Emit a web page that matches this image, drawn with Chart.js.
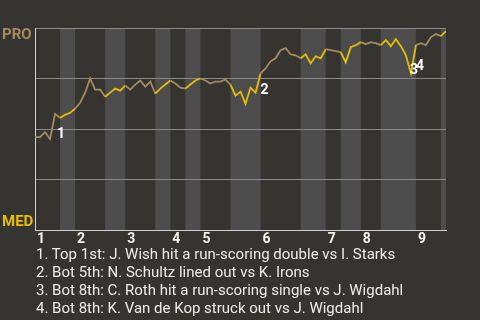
<!DOCTYPE html>
<html>
<head>
<meta charset="utf-8">
<script src="https://cdn.jsdelivr.net/npm/chart.js@4"></script>
<style>
  html, body { margin: 0; padding: 0; background: #363430; }
  #wrap { position: relative; width: 480px; height: 320px; background: #363430; }
  #notes { position: absolute; left: 36px; top: 245px; font: 15px Roboto, sans-serif; line-height: 18px; color: #ececec; white-space: nowrap; }
</style>
</head>
<body>
<div id="wrap">
  <canvas id="myChart"></canvas>
  <div id="notes"></div>
</div>
<script>
// win probability for PRO, one point per plate appearance (0 = MED wins, 100 = PRO wins)
var winPct = [46, 46, 48.5, 45, 57.5, 55.5, 57, 58, 60, 63, 68, 75, 69.5, 69.5, 66,
  68, 70, 69, 71.5, 69.5, 72, 74, 71, 73.5, 67.5, 70, 72, 74, 72.5, 70.5, 70,
  72, 74, 75, 74, 72.5, 73.5, 73.5, 74.5, 72, 66.5, 68.5, 62.5, 70.5, 68, 77.5,
  80, 83.5, 85, 89, 90, 87, 86.5, 85, 87, 82.5, 86, 85, 89.5, 89, 88.5, 88,
  83, 90.5, 91.5, 93, 92, 93, 92.5, 91.5, 94, 91, 94.5, 91, 86.5, 77.5, 91.5,
  92.5, 91.5, 95.5, 97, 96, 98.5];

// plate appearance index where each half inning starts (top 1st, bot 1st, top 2nd ...)
var halfStarts = [0, 5, 8, 14, 18, 24, 27, 30, 33, 39, 45, 53, 58, 61, 65, 69, 76, 81];
var lastPA = 82;
var inningLabels = ['1', '2', '3', '4', '5', '6', '7', '8', '9'];

// key plays
var eventIdx = [4, 45, 75, 76];
var eventNames = ['1', '2', '3', '4'];
var eventNotes = [
  '1. Top 1st: J. Wish hit a run-scoring double vs I. Starks',
  '2. Bot 5th: N. Schultz lined out vs K. Irons',
  '3. Bot 8th: C. Roth hit a run-scoring single vs J. Wigdahl',
  '4. Bot 8th: K. Van de Kop struck out vs J. Wigdahl'
];

var teamTop = 'PRO';
var teamBottom = 'MED';
var awayColor = '#a38a60';
var homeColor = '#e4be00';

document.getElementById('notes').innerHTML = eventNotes.map(function (t) { return '<div>' + t + '</div>'; }).join('');

var inningStarts = halfStarts.filter(function (v, i) { return i % 2 === 0; });

function isBottomHalf(pa) {
  var h = 0;
  for (var i = 0; i < halfStarts.length; i++) {
    if (halfStarts[i] <= pa) h = i;
  }
  return h % 2 === 1;
}

var bandPlugin = {
  id: 'bands',
  beforeDraw: function (chart) {
    var c = chart.ctx, a = chart.chartArea, x = chart.scales.x;
    c.save();
    c.fillStyle = '#4d4d4d';
    for (var i = 1; i < halfStarts.length; i += 2) {
      var end = i + 1 < halfStarts.length ? halfStarts[i + 1] : lastPA;
      var x0 = x.getPixelForValue(halfStarts[i]);
      var x1 = x.getPixelForValue(end);
      c.fillRect(x0, a.top, x1 - x0, a.bottom - a.top);
    }
    c.restore();
  }
};

var labelOffsets = [[2, 24], [0, 21], [-1, 1], [0, 25]];

var textPlugin = {
  id: 'texts',
  afterDatasetsDraw: function (chart) {
    var c = chart.ctx, y = chart.scales.y;
    var meta = chart.getDatasetMeta(0);
    c.save();
    c.font = 'bold 15px Roboto, sans-serif';
    c.textAlign = 'left';
    c.textBaseline = 'alphabetic';
    c.fillStyle = awayColor;
    c.fillText(teamTop, 2, y.getPixelForValue(100) + 11);
    c.fillStyle = homeColor;
    c.fillText(teamBottom, 2, y.getPixelForValue(0) - 4);

    c.font = 'bold 14px Roboto, sans-serif';
    c.fillStyle = '#ffffff';
    eventIdx.forEach(function (idx, k) {
      var p = meta.data[idx];
      c.fillText(eventNames[k], p.x + labelOffsets[k][0], p.y + labelOffsets[k][1]);
    });
    c.restore();
  }
};

var ctx = document.getElementById('myChart').getContext('2d');
var chart = new Chart(ctx, {
  type: 'line',
  data: {
    datasets: [{
      data: winPct.map(function (v, i) { return { x: i, y: v }; }),
      borderWidth: 1.8,
      pointRadius: 0,
      tension: 0,
      borderColor: awayColor,
      segment: {
        borderColor: function (s) { return isBottomHalf(s.p0DataIndex) ? homeColor : awayColor; }
      }
    }]
  },
  options: {
    responsive: true,
    maintainAspectRatio: false,
    animation: false,
    layout: { padding: { top: 28, right: 34, left: 0, bottom: 0 } },
    plugins: { legend: { display: false }, tooltip: { enabled: false } },
    scales: {
      x: {
        type: 'linear',
        min: 0,
        max: lastPA,
        afterBuildTicks: function (scale) {
          scale.ticks = inningStarts.map(function (v) { return { value: v }; });
        },
        afterFit: function (scale) { scale.height = 90; },
        grid: { display: false, drawTicks: false },
        border: { display: true, color: '#d0d0d0', width: 1 },
        ticks: {
          align: 'start',
          labelOffset: 2,
          padding: 1,
          autoSkip: false,
          maxRotation: 0,
          color: '#f2f2f2',
          font: { family: 'Roboto', size: 14, weight: 'bold' },
          callback: function (v) { return inningLabels[inningStarts.indexOf(v)]; }
        }
      },
      y: {
        min: 0,
        max: 100,
        afterFit: function (scale) { scale.width = 35; },
        ticks: { display: false, stepSize: 25 },
        grid: {
          drawTicks: false,
          color: function (c) { return c.tick && c.tick.value === 0 ? 'rgba(0,0,0,0)' : '#8a8a8a'; }
        },
        border: { display: true, color: '#d0d0d0', width: 1 }
      }
    }
  },
  plugins: [bandPlugin, textPlugin]
});
</script>
</body>
</html>
